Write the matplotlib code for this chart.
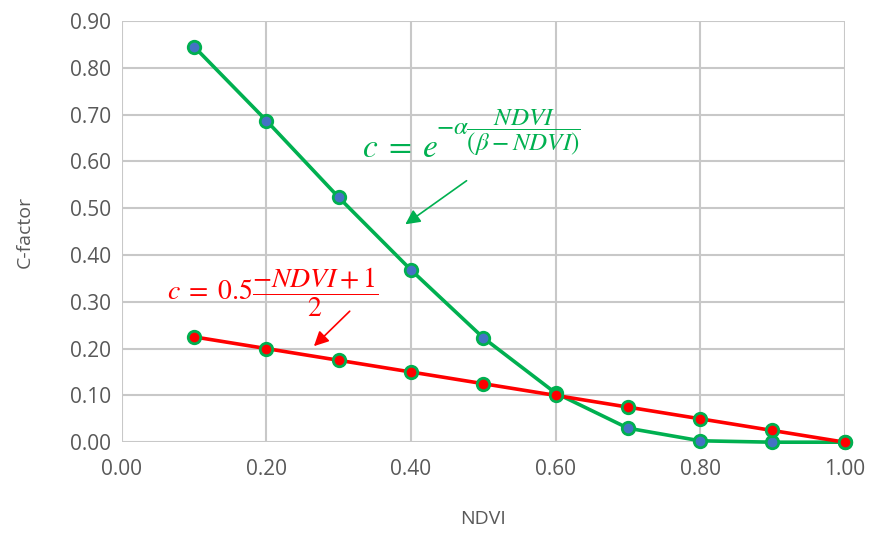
import numpy as np
import matplotlib
matplotlib.use("Agg")
import matplotlib.pyplot as plt

# Datos
ndvi = [0.1, 0.2, 0.3, 0.4, 0.5, 0.6, 0.7, 0.8, 0.9, 1.0]
c_exp = [0.845, 0.687, 0.523, 0.368, 0.223, 0.105, 0.030, 0.003, 0.000, 0.000]
c_lin = [0.225, 0.200, 0.175, 0.150, 0.125, 0.100, 0.075, 0.050, 0.025, 0.000]
xticks = [0.0, 0.2, 0.4, 0.6, 0.8, 1.0]
yticks = [0.0, 0.1, 0.2, 0.3, 0.4, 0.5, 0.6, 0.7, 0.8, 0.9]

verde = "#00B050"
rojo = "#FF0000"
azul = "#4472C4"
gris = "#595959"

plt.rcParams["font.family"] = ["Open Sans", "DejaVu Sans"]
plt.rcParams["mathtext.fontset"] = "stix"

fig = plt.figure(figsize=(8.7, 5.36), dpi=100)
ax = fig.add_axes([0.140, 0.175, 0.831, 0.786])

ax.plot(ndvi, c_exp, color=verde, lw=2.6, marker="o", ms=9, clip_on=False,
        markerfacecolor=azul, markeredgecolor=verde, markeredgewidth=2, zorder=3)
ax.plot(ndvi, c_lin, color=rojo, lw=2.6, marker="o", ms=9, clip_on=False,
        markerfacecolor=rojo, markeredgecolor=verde, markeredgewidth=2, zorder=4)

ax.set_xlim(0, 1.0)
ax.set_ylim(0, 0.9)
ax.set_xticks(xticks)
ax.set_yticks(yticks)
ax.set_xticklabels([f"{v:.2f}" for v in xticks])
ax.set_yticklabels([f"{v:.2f}" for v in yticks])
ax.tick_params(length=0, labelsize=15, colors=gris)
ax.tick_params(axis="x", pad=12)
ax.tick_params(axis="y", pad=8)
ax.grid(True, color="#C8C8C8", lw=1.5)
ax.set_axisbelow(True)
for s in ax.spines.values():
    s.set_visible(False)

ax.set_xlabel("NDVI", fontsize=14, color=gris, labelpad=22)
ax.set_ylabel("C-factor", fontsize=14, color=gris, labelpad=26)

# Ecuación exponencial (base y exponente por separado)
ax.text(0.332, 0.628, r"$c\;=\;e$", color=verde, fontsize=24,
        ha="left", va="center")
ax.text(0.434, 0.662, r"$-\alpha\dfrac{NDVI}{(\beta-NDVI)}$", color=verde,
        fontsize=18, ha="left", va="center")
ax.annotate("", xy=(0.389, 0.462), xytext=(0.480, 0.562),
            arrowprops=dict(arrowstyle="-|>", color=verde, lw=1.2,
                            mutation_scale=22))

ax.text(0.062, 0.321, r"$c\;=\;0.5\dfrac{-NDVI+1}{2}$",
        color=rojo, fontsize=20, ha="left", va="center")
ax.annotate("", xy=(0.263, 0.201), xytext=(0.318, 0.284),
            arrowprops=dict(arrowstyle="-|>", color=rojo, lw=1.2,
                            mutation_scale=22))

fig.savefig("out.png", dpi=100)
